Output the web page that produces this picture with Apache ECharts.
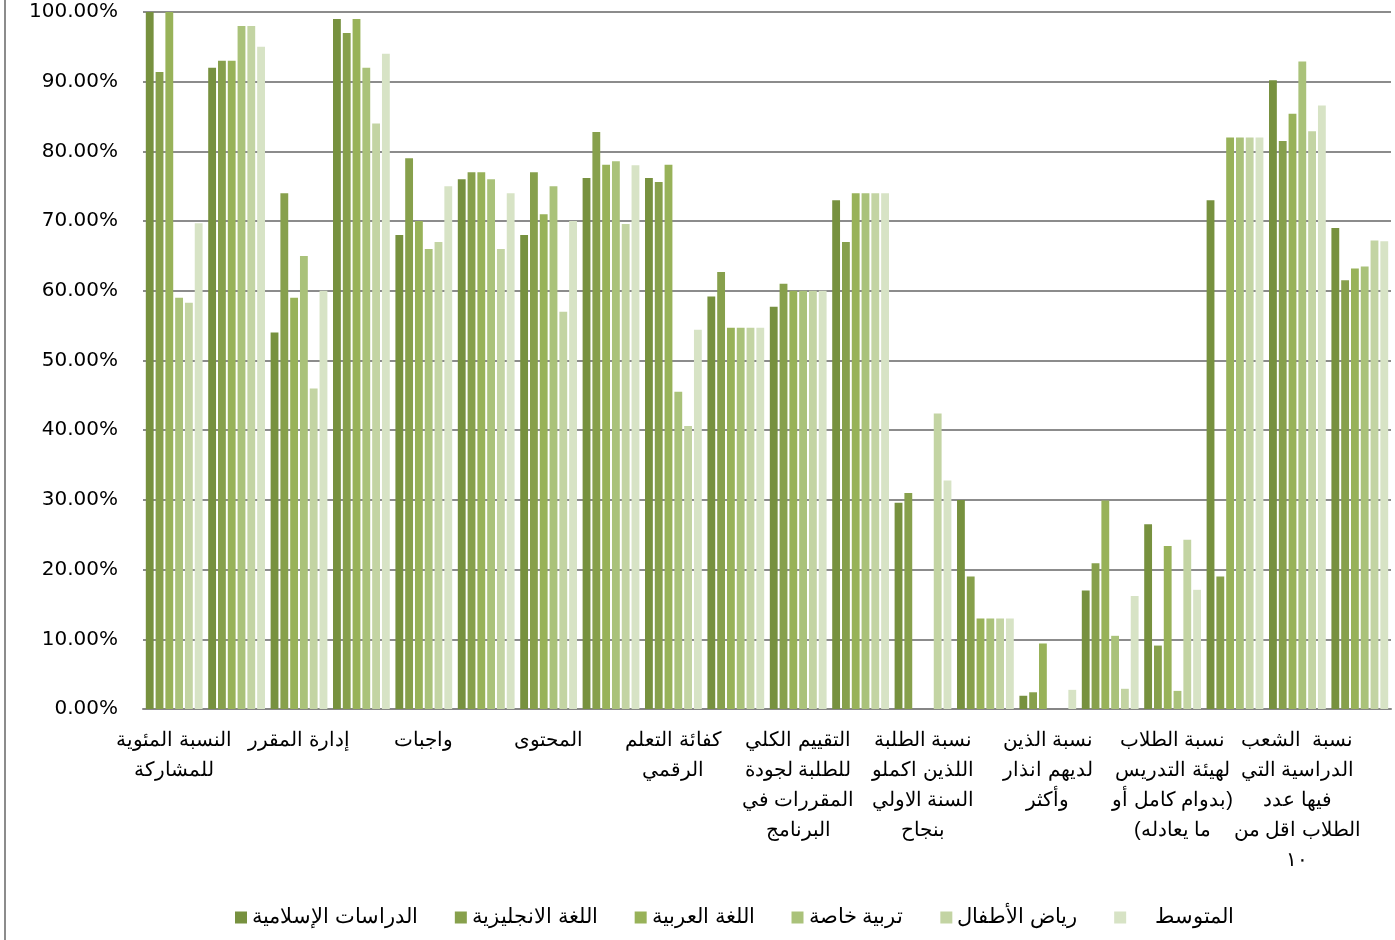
<!DOCTYPE html>
<html>
<head>
<meta charset="utf-8">
<script src="https://cdn.jsdelivr.net/npm/echarts@6/dist/echarts.min.js"></script>
<style>
  html, body { margin: 0; padding: 0; background: #fff; }
  #chart { width: 1395px; height: 940px; }
</style>
</head>
<body>
<div id="chart"></div>
<script>
// categories (only every other label is shown in the source chart)
// parens in the 17th label are placed so the canvas bidi shows them like the source
const categories = [
  "النسبة المئوية\nللمشاركة", "",
  "إدارة المقرر", "",
  "واجبات", "",
  "المحتوى", "",
  "كفائة التعلم\nالرقمي", "",
  "التقييم الكلي\nللطلبة لجودة\nالمقررات في\nالبرنامج", "",
  "نسبة الطلبة\nاللذين اكملو\nالسنة الاولي\nبنجاح", "",
  "نسبة الذين\nلديهم انذار\nوأكثر", "",
  "نسبة الطلاب\nلهيئة التدريس\nبدوام كامل أو)\n(ما يعادله", "",
  "نسبة  الشعب\nالدراسية التي\nفيها عدد\nالطلاب اقل من\n١٠", ""
];

const seriesNames = ["الدراسات الإسلامية", "اللغة الانجليزية", "اللغة العربية", "تربية خاصة", "رياض الأطفال", "    المتوسط"];

// values in percent
const islamic   = [100, 92, 54, 99, 68, 76, 68, 76.2, 76.2, 59.2, 57.7, 73, 29.6, 30, 1.9, 17, 26.5, 73, 90.2, 69];
const english   = [91.4, 93, 74, 97, 79, 77, 77, 82.8, 75.6, 62.7, 61, 67, 31, 19, 2.4, 20.9, 9.1, 19, 81.5, 61.5];
const arabic    = [100, 93, 59, 99, 70, 77, 71, 78.1, 78.1, 54.7, 60, 74, 0, 13, 9.4, 29.9, 23.4, 82, 85.4, 63.2];
const special   = [59, 98, 65, 92, 66, 76, 75, 78.6, 45.5, 54.7, 60, 74, 0, 13, 0, 10.5, 2.6, 82, 92.9, 63.5];
const kinder    = [58.3, 98, 46, 84, 67, 66, 57, 69.6, 40.6, 54.7, 60, 74, 42.4, 13, 0, 2.9, 24.3, 82, 82.9, 67.2];
const average   = [69.7, 95, 60, 94, 75, 74, 70, 78, 54.4, 54.7, 60, 74, 32.8, 13, 2.75, 16.2, 17.1, 82, 86.6, 67.1];

const seriesData = [islamic, english, arabic, special, kinder, average];
const colors = ["#77913f", "#87a04c", "#98b259", "#aac27a", "#c3d4a3", "#d7e3c5"];

const chart = echarts.init(document.getElementById("chart"));
chart.setOption({
  animation: false,
  backgroundColor: "#fff",
  color: colors,
  grid: {
    left: 143,
    right: 4,
    top: 12,
    bottom: 231
  },
  legend: {
    bottom: 7,
    left: 230,
    itemWidth: 12,
    itemHeight: 12,
    itemGap: 37,
    icon: "rect",
    textStyle: {
      fontFamily: "Liberation Sans",
      fontSize: 21,
      color: "#000"
    },
    data: seriesNames
  },
  xAxis: {
    type: "category",
    data: categories,
    axisLine: {
      lineStyle: { color: "#868686", width: 2 }
    },
    axisTick: { show: false },
    axisLabel: {
      interval: 0,
      margin: 16,
      color: "#000",
      fontFamily: "Liberation Sans",
      fontSize: 20,
      lineHeight: 30,
      align: "center"
    }
  },
  yAxis: {
    type: "value",
    min: 0,
    max: 100,
    interval: 10,
    axisLine: { show: false },
    axisTick: { show: false },
    splitLine: {
      lineStyle: { color: "#8c8c8c", width: 2 }
    },
    axisLabel: {
      margin: 25,
      color: "#000",
      fontFamily: "DejaVu Sans",
      fontSize: 20,
      formatter: function (v) {
        return v.toFixed(2) + "%";
      }
    }
  },
  graphic: [
    {
      type: "line",
      shape: { x1: 5, y1: 0, x2: 5, y2: 940 },
      style: { stroke: "#8c8c8c", lineWidth: 2 }
    }
  ],
  series: seriesData.map(function (d, i) {
    return {
      name: seriesNames[i],
      type: "bar",
      data: d,
      barGap: "25%",
      barCategoryGap: "9%",
      itemStyle: {
        color: colors[i]
      }
    };
  })
});
</script>
</body>
</html>
